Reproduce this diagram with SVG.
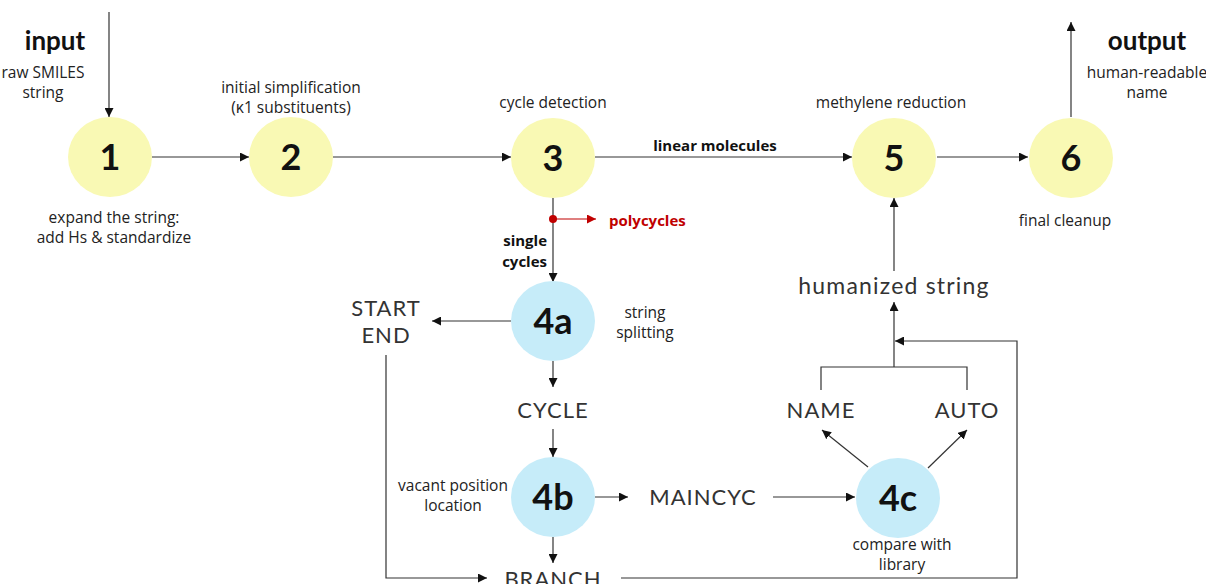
<svg xmlns="http://www.w3.org/2000/svg" width="1206" height="584" viewBox="0 0 1206 584">
<defs>
<marker id="ah" viewBox="0 0 10 10" refX="10" refY="5" markerWidth="9" markerHeight="9" markerUnits="userSpaceOnUse" orient="auto"><path d="M0,0 L10,5 L0,10 z" fill="#111"/></marker>
<marker id="ahr" viewBox="0 0 10 10" refX="10" refY="5" markerWidth="9" markerHeight="9" markerUnits="userSpaceOnUse" orient="auto"><path d="M0,0 L10,5 L0,10 z" fill="#c00000"/></marker>
<style>
.y{fill:#f9f9b4}
.b{fill:#c6ecf9}
.num{font-family:"Lato","Liberation Sans",sans-serif;font-weight:700;font-size:36px;fill:#111;text-anchor:middle}
.s{font-family:"Open Sans","Liberation Sans",sans-serif;font-size:15.5px;fill:#222;text-anchor:middle}
.sb{font-family:"Open Sans","Liberation Sans",sans-serif;font-size:15px;font-weight:700;fill:#111}
.h{font-family:"Lato","Liberation Sans",sans-serif;font-weight:700;font-size:26px;fill:#111;text-anchor:middle}
.k{font-family:"Lato","Liberation Sans",sans-serif;font-weight:400;font-size:22px;letter-spacing:1px;fill:#333;text-anchor:middle}
.c{fill:none;stroke:#333;stroke-width:1.2}
</style>
</defs>
<g id="connectors">
<line class="c" x1="109" y1="12" x2="109" y2="117" marker-end="url(#ah)"/>
<line class="c" x1="152" y1="157" x2="249" y2="157" marker-end="url(#ah)"/>
<line class="c" x1="333" y1="157" x2="511" y2="157" marker-end="url(#ah)"/>
<line class="c" x1="595" y1="157" x2="852" y2="157" marker-end="url(#ah)"/>
<line class="c" x1="937" y1="157" x2="1028" y2="157" marker-end="url(#ah)"/>
<line class="c" x1="1071" y1="117" x2="1071" y2="22" marker-end="url(#ah)"/>
<line class="c" x1="553" y1="198" x2="553" y2="282" marker-end="url(#ah)"/>
<line x1="553" y1="219" x2="596" y2="219" stroke="#c00000" stroke-width="1.2" marker-end="url(#ahr)"/>
<circle cx="553" cy="219" r="4" fill="#c00000"/>
<line class="c" x1="511" y1="321" x2="432" y2="321" marker-end="url(#ah)"/>
<line class="c" x1="553" y1="361" x2="553" y2="387" marker-end="url(#ah)"/>
<line class="c" x1="553" y1="429" x2="553" y2="457" marker-end="url(#ah)"/>
<line class="c" x1="595" y1="497" x2="628" y2="497" marker-end="url(#ah)"/>
<line class="c" x1="773" y1="497" x2="855" y2="497" marker-end="url(#ah)"/>
<line class="c" x1="553" y1="537" x2="553" y2="563" marker-end="url(#ah)"/>
<polyline class="c" points="386,355 386,578 487,578" marker-end="url(#ah)"/>
<polyline class="c" points="621,578 1017,578 1017,341 895,341" marker-end="url(#ah)"/>
<line class="c" x1="868" y1="467" x2="822" y2="430" marker-end="url(#ah)"/>
<line class="c" x1="928" y1="468" x2="967" y2="430" marker-end="url(#ah)"/>
<polyline class="c" points="821,390 821,367 967,367 967,390"/>
<line class="c" x1="894" y1="367" x2="894" y2="302" marker-end="url(#ah)"/>
<line class="c" x1="894" y1="271" x2="894" y2="198" marker-end="url(#ah)"/>
</g>
<g id="input"><text class="h" x="55" y="50">input</text><text class="s" x="43" y="78">raw SMILES</text><text class="s" x="43" y="98">string</text></g>
<g id="output"><text class="h" x="1147" y="50">output</text><text class="s" x="1147" y="78">human-readable</text><text class="s" x="1147" y="98">name</text></g>
<g id="n1"><ellipse class="y" cx="110" cy="157" rx="42" ry="40"/><text class="num" x="110" y="170">1</text><text class="s" x="114" y="223">expand the string:</text><text class="s" x="114" y="243">add Hs &amp; standardize</text></g>
<g id="n2"><ellipse class="y" cx="291" cy="157" rx="42" ry="40"/><text class="num" x="291" y="170">2</text><text class="s" x="291" y="93">initial simplification</text><text class="s" x="291" y="113">(κ1 substituents)</text></g>
<g id="n3"><ellipse class="y" cx="553" cy="158" rx="42" ry="40"/><text class="num" x="553" y="171">3</text><text class="s" x="553" y="108">cycle detection</text></g>
<g id="n5"><ellipse class="y" cx="894" cy="158" rx="42" ry="40"/><text class="num" x="894" y="171">5</text><text class="s" x="891" y="108">methylene reduction</text></g>
<g id="n6"><ellipse class="y" cx="1071" cy="158" rx="42" ry="40"/><text class="num" x="1071" y="171">6</text><text class="s" x="1065" y="226">final cleanup</text></g>
<g id="n4a"><ellipse class="b" cx="553" cy="321" rx="42" ry="40"/><text class="num" x="553" y="334">4a</text><text class="s" x="645" y="318">string</text><text class="s" x="645" y="338">splitting</text></g>
<g id="n4b"><ellipse class="b" cx="553" cy="497" rx="42" ry="40"/><text class="num" x="553" y="510">4b</text><text class="s" x="453" y="491">vacant position</text><text class="s" x="453" y="511">location</text></g>
<g id="n4c"><ellipse class="b" cx="898" cy="498" rx="42" ry="40"/><text class="num" x="898" y="511">4c</text><text class="s" x="902" y="550">compare with</text><text class="s" x="902" y="570">library</text></g>
<g id="labels">
<text class="sb" x="715" y="151" text-anchor="middle">linear molecules</text>
<text class="sb" x="609" y="226" style="fill:#c00000">polycycles</text>
<text class="sb" x="547" y="246" text-anchor="end">single</text>
<text class="sb" x="547" y="267" text-anchor="end">cycles</text>
</g>
<g id="startend"><text class="k" x="386" y="316">START</text><text class="k" x="386" y="343">END</text></g>
<g id="cycle"><text class="k" x="553" y="418">CYCLE</text></g>
<g id="maincyc"><text class="k" x="703" y="505">MAINCYC</text></g>
<g id="branch"><text class="k" x="553" y="587">BRANCH</text></g>
<g id="name"><text class="k" x="821" y="418">NAME</text></g>
<g id="auto"><text class="k" x="967" y="418">AUTO</text></g>
<g id="humanized"><text class="k" x="894" y="294" style="font-size:23px;letter-spacing:1.2px">humanized string</text></g>
</svg>
